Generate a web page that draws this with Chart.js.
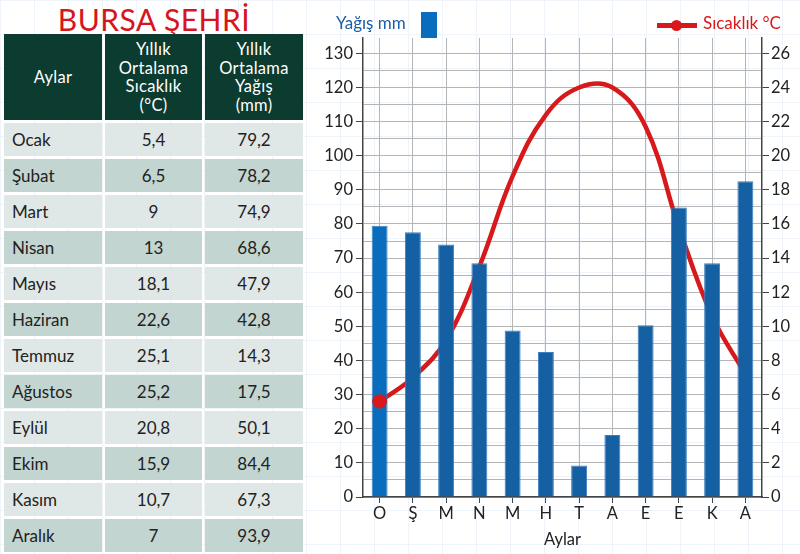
<!DOCTYPE html>
<html lang="tr">
<head>
<meta charset="utf-8">
<script src="https://cdn.jsdelivr.net/npm/chart.js@4"></script>
<style>
  body { margin:0; width:800px; height:554px; overflow:hidden; position:relative;
    font-family: Lato, "Noto Sans", sans-serif;
    background-color:#fff;
    background-image: linear-gradient(#eef4fa 1px, transparent 1px), linear-gradient(90deg, #eef4fa 1px, transparent 1px);
    background-size: 34px 34px; }
  .title { position:absolute; left:0; width:308px; top:3px; line-height:32px; text-align:center; color:#d7151c; font-size:30px; letter-spacing:0.5px; }
  table { position:absolute; left:4px; top:34px; border-collapse:separate; border-spacing:3px; margin:-3px; }
  th { background:#0c3b2f; color:#fff; font-weight:normal; font-size:16.5px; line-height:18.5px; height:86px; padding:0; letter-spacing:0.3px; }
  td { height:33px; padding:0; font-size:17px; color:#222; text-align:center; }
  td.m { text-align:left; padding-left:8px; }
  tr.l td { background:#dfe8e6; }
  tr.d td { background:#c3d5d1; }
  #wrap { position:absolute; left:305px; top:0; width:495px; height:554px; }
  .leg { position:absolute; font-size:17px; top:12px; }
</style>
</head>
<body>
<div class="title">BURSA ŞEHRİ</div>
<table id="tbl"></table>
<div id="wrap"><canvas id="c" width="495" height="554"></canvas></div>
<div class="leg" style="left:336px;color:#1c5ea8">Yağış mm</div>
<div style="position:absolute;left:421px;top:12px;width:16px;height:26px;background:#0a6cbd"></div>
<div style="position:absolute;left:657px;top:23px;width:40px;height:5px;background:#d7191c"></div>
<div style="position:absolute;left:671px;top:20px;width:11px;height:11px;border-radius:50%;background:#d7191c"></div>
<div class="leg" style="left:703px;color:#d7191c">Sıcaklık °C</div>
<script>
// table values
const monthNames = ['Ocak','Şubat','Mart','Nisan','Mayıs','Haziran','Temmuz','Ağustos','Eylül','Ekim','Kasım','Aralık'];
const tableTemp = ['5,4','6,5','9','13','18,1','22,6','25,1','25,2','20,8','15,9','10,7','7'];
const tableRain = ['79,2','78,2','74,9','68,6','47,9','42,8','14,3','17,5','50,1','84,4','67,3','93,9'];

// chart values
const monthLetters = ['O','Ş','M','N','M','H','T','A','E','E','K','A'];
const rainBars = [79.5, 77.6, 74, 68.5, 48.8, 42.5, 9.2, 18.2, 50.3, 84.8, 68.5, 92.5];
const tempCurve = [5.6, 7.0, 9.2, 13.5, 18.8, 22.4, 24.0, 24.0, 21.7, 15.8, 10.6, 7.2];
const rainTicks = [0,10,20,30,40,50,60,70,80,90,100,110,120,130];
const tempTicks = [0,2,4,6,8,10,12,14,16,18,20,22,24,26];

/* ===== TABLE ===== */
let html = '<tr><th style="width:98px">Aylar</th><th style="width:97px">Yıllık<br>Ortalama<br>Sıcaklık<br>(°C)</th><th style="width:98px">Yıllık<br>Ortalama<br>Yağış<br>(mm)</th></tr>';
monthNames.forEach((m, i) => {
  html += '<tr class="' + (i % 2 ? 'd' : 'l') + '"><td class="m">' + m + '</td><td>' + tableTemp[i] + '</td><td>' + tableRain[i] + '</td></tr>';
});
document.getElementById('tbl').innerHTML = html;

/* ===== CHART ===== */
const tickFont = { family: 'Lato', size: 16.5 };
const firstDot = {
  id: 'firstDot',
  afterDatasetsDraw(chart) {
    const pt = chart.getDatasetMeta(1).data[0];
    if (pt) pt.draw(chart.ctx);
  }
};

new Chart(document.getElementById('c'), {
  data: {
    labels: monthLetters,
    datasets: [{
      type: 'bar',
      data: rainBars,
      yAxisID: 'y',
      order: 1,
      backgroundColor: rainBars.map((v, i) => i === 0 ? '#0a6cbd' : '#1560a3'),
      borderColor: '#3b7fc1',
      borderWidth: 1,
      barPercentage: 0.48,
      categoryPercentage: 1
    }, {
      type: 'line',
      data: tempCurve,
      yAxisID: 'y1',
      order: 2,
      borderColor: '#d7191c',
      backgroundColor: '#d7191c',
      borderWidth: 4.5,
      tension: 0.4,
      pointRadius: tempCurve.map((v, i) => i === 0 ? 5 : 0)
    }]
  },
  plugins: [firstDot],
  options: {
    responsive: false,
    animation: false,
    layout: { padding: { top: 38 } },
    plugins: { legend: { display: false }, tooltip: { enabled: false } },
    scales: {
      x: {
        afterFit: s => { s.height = 57; },
        border: { color: '#444', width: 1.5 },
        grid: { offset: false, color: '#b5b5b5', tickLength: 6, tickColor: '#444' },
        ticks: { color: '#222', font: tickFont, padding: 1, autoSkip: false, maxRotation: 0 },
        title: { display: true, text: 'Aylar', color: '#222', font: { family: 'Lato', size: 16.5 }, padding: { top: 4 } }
      },
      y: {
        position: 'left',
        min: 0, max: 134.5,
        afterFit: s => { s.width = 58; },
        afterBuildTicks: s => {
          const t = [];
          rainTicks.forEach(v => { t.push({ value: v }); if (v < 130) t.push({ value: v + 5 }); });
          s.ticks = t;
        },
        border: { color: '#444', width: 1.5 },
        grid: {
          color: '#b5b5b5', tickLength: 7,
          tickColor: ctx => (ctx.tick && ctx.tick.value % 10 === 0) ? '#444' : 'rgba(0,0,0,0)'
        },
        ticks: { color: '#222', font: tickFont, padding: 3, autoSkip: false,
          callback: v => v % 10 === 0 ? v : '' }
      },
      y1: {
        position: 'right',
        min: 0, max: 26.9,
        afterFit: s => { s.width = 38; },
        afterBuildTicks: s => { s.ticks = tempTicks.map(v => ({ value: v })); },
        border: { color: '#444', width: 1.5 },
        grid: { drawOnChartArea: false, tickLength: 7, tickColor: '#444' },
        ticks: { color: '#222', font: tickFont, padding: 2, autoSkip: false }
      }
    }
  }
});
</script>
</body>
</html>
